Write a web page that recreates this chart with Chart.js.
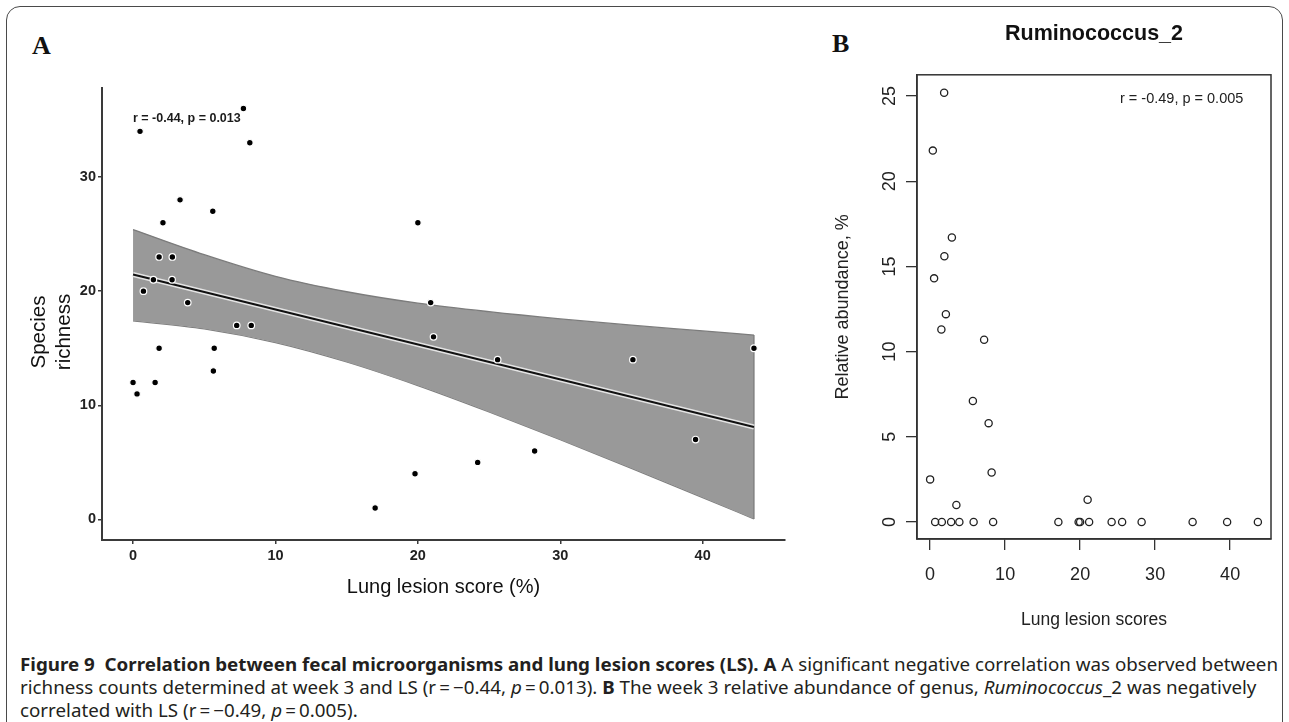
<!DOCTYPE html>
<html>
<head>
<meta charset="utf-8">
<title>Figure 9</title>
<script src="https://cdn.jsdelivr.net/npm/chart.js@4.4.1/dist/chart.umd.min.js"></script>
<style>
  html, body { margin: 0; padding: 0; background: #fff; overflow: hidden; }
  body { width: 1289px; height: 722px; position: relative; font-family: "Liberation Sans", Arial, sans-serif; color: #111; }
  .frame { position: absolute; left: 6px; top: 6px; width: 1275px; height: 780px;
           border: 1.5px solid #4a4a4a; border-radius: 14px 14px 0 0; }
  .abs { position: absolute; white-space: nowrap; }
  .panel { position: absolute; font-family: "Liberation Serif", "Times New Roman", serif; font-weight: bold; font-size: 26px; line-height: 26px; }
  #wrapA { position: absolute; left: 0; top: 0; }
  #wrapB { position: absolute; left: 800px; top: 0; }
  #ytitleA { position: absolute; left: -50px; top: 307px; width: 200px; height: 50px; text-align: center;
             font-size: 20.5px; line-height: 25px; transform: rotate(-90deg); color: #111; }
  #caption { position: absolute; left: 20px; top: 653px; transform-origin: 0 0;
             font-family: "Noto Sans", "Open Sans", sans-serif; font-size: 18px; line-height: 23px; color: #231f20; }
  #caption div { white-space: nowrap; }
  #caption span.line { display: inline-block; }
</style>
</head>
<body>
<div class="frame"></div>

<div class="panel" style="left:32px; top:33px;">A</div>
<div class="panel" style="left:832px; top:31px;">B</div>

<div id="wrapA"><canvas id="chartA" width="800" height="640"></canvas></div>
<div id="wrapB"><canvas id="chartB" width="489" height="650"></canvas></div>

<div id="ytitleA">Species<br>richness</div>
<div class="abs" style="left:133px; top:111px; font-size:12.5px; font-weight:bold; line-height:14px; color:#1a1a1a;">r = -0.44, p = 0.013</div>
<div class="abs" style="left:1120px; top:90px; font-size:14.5px; line-height:16px; color:#222;">r = -0.49, p = 0.005</div>

<div id="caption">
  <div><span class="line" id="capLine1"><b>Figure 9&nbsp; Correlation between fecal microorganisms and lung lesion scores (LS). A</b> A significant negative correlation was observed between</span></div>
  <div><span class="line">richness counts determined at week 3 and LS (r&#8201;=&#8201;−0.44, <i>p</i>&#8201;=&#8201;0.013). <b>B</b> The week 3 relative abundance of genus, <i>Ruminococcus</i>_2 was negatively</span></div>
  <div><span class="line">correlated with LS (r&#8201;=&#8201;−0.49, <i>p</i>&#8201;=&#8201;0.005).</span></div>
</div>

<script>
// ---- Panel A: species richness (week 3) against lung lesion score ----
const lesionA   = [0.49, 7.75, 8.2, 3.3, 2.1, 5.6, 20.0, 1.83, 2.76, 1.43, 2.74, 0.73, 3.84, 7.28, 8.3,
                   1.83, 5.7, 5.64, 0.0, 1.55, 0.28, 19.8, 20.9, 21.1, 25.6, 35.1, 43.6, 39.5, 28.2, 24.2, 17.0];
const richnessA = [34, 36, 33, 28, 26, 27, 26, 23, 23, 21, 21, 20, 19, 17, 17,
                   15, 15, 13, 12, 12, 11, 4, 19, 16, 14, 14, 15, 7, 6, 5, 1];

// linear fit and its 95% confidence band
const fitX       = [0, 43.6];
const fitY       = [21.46, 8.1];
const bandX      = [0, 5, 10, 15, 20, 25, 30, 35, 40, 43.6];
const bandUpper  = [25.4, 23.2, 21.3, 19.95, 18.95, 18.2, 17.57, 17.02, 16.52, 16.15];
const bandLower  = [17.4, 16.7, 15.5, 13.8, 11.73, 9.42, 6.99, 4.48, 1.92, 0.05];

const ticksAX = [0, 10, 20, 30, 40];
const ticksAY = [0, 10, 20, 30];

// ---- Panel B: relative abundance of Ruminococcus_2 against lung lesion score ----
const lesionB    = [1.87, 0.36, 2.9, 1.9, 0.53, 2.1, 1.5, 7.2, 5.7, 7.8, 8.2, 0.0, 21.0, 3.5,
                    0.67, 1.56, 2.8, 3.9, 5.8, 8.4, 17.1, 19.8, 20.0, 21.2, 24.2, 25.6, 28.2, 35.0, 39.6, 43.7];
const abundanceB = [25.2, 21.8, 16.7, 15.6, 14.3, 12.2, 11.3, 10.7, 7.1, 5.8, 2.9, 2.5, 1.3, 1.0,
                    0, 0, 0, 0, 0, 0, 0, 0, 0, 0, 0, 0, 0, 0, 0, 0];

const ticksBX = [0, 10, 20, 30, 40];
const ticksBY = [0, 5, 10, 15, 20, 25];

const pairs = (xs, ys) => xs.map((x, i) => ({ x: x, y: ys[i] }));
const fixTicks = list => scale => { scale.ticks = list.map(v => ({ value: v })); };

const SANS = '"Liberation Sans", Arial, sans-serif';
const AXIS_A = '#3a3a3a';
const BAND_EDGE = '#7c7c7c';

new Chart(document.getElementById('chartA'), {
  type: 'scatter',
  data: {
    datasets: [
      { data: pairs(lesionA, richnessA), pointRadius: 3.3, pointBackgroundColor: '#000',
        pointBorderColor: '#ffffff', pointBorderWidth: 1.2, showLine: false },
      { data: pairs(fitX, fitY), showLine: true, borderColor: '#111', borderWidth: 2.2, pointRadius: 0, fill: false },
      { data: pairs(fitX, fitY), showLine: true, borderColor: '#e4e4e4', borderWidth: 5, pointRadius: 0, fill: false },
      { data: [ { x: bandX[bandX.length - 1], y: bandLower[bandLower.length - 1] },
                { x: bandX[bandX.length - 1], y: bandUpper[bandUpper.length - 1] } ],
        showLine: true, borderColor: BAND_EDGE, borderWidth: 1.3, pointRadius: 0, fill: false },
      { data: pairs(bandX, bandUpper), showLine: true, borderColor: BAND_EDGE, borderWidth: 1.3,
        cubicInterpolationMode: 'monotone', pointRadius: 0, fill: '+1', backgroundColor: '#999999' },
      { data: pairs(bandX, bandLower), showLine: true, borderColor: BAND_EDGE, borderWidth: 1.3,
        cubicInterpolationMode: 'monotone', pointRadius: 0, fill: false }
    ]
  },
  options: {
    responsive: false, animation: false, events: [],
    layout: { padding: { left: 0, top: 88, right: 15, bottom: 0 } },
    plugins: { legend: { display: false }, tooltip: { enabled: false } },
    scales: {
      x: {
        type: 'linear', min: -2.18, max: 45.78,
        afterBuildTicks: fixTicks(ticksAX),
        afterFit: s => { s.height = 100; },
        grid: { display: true, drawOnChartArea: false, drawTicks: true, tickLength: 4, color: AXIS_A, lineWidth: 1.5 },
        border: { display: true, color: AXIS_A, width: 2 },
        ticks: { autoSkip: false, maxRotation: 0, padding: 3, color: '#222',
                 font: { family: SANS, size: 14.5, weight: 'bold' } },
        title: { display: true, text: 'Lung lesion score (%)', color: '#111',
                 font: { family: SANS, size: 20 }, padding: { top: 0, bottom: 41 } }
      },
      y: {
        type: 'linear', min: -1.8, max: 37.8,
        afterBuildTicks: fixTicks(ticksAY),
        afterFit: s => { s.width = 102; },
        grid: { display: true, drawOnChartArea: false, drawTicks: true, tickLength: 4, color: AXIS_A, lineWidth: 1.5 },
        border: { display: true, color: AXIS_A, width: 2 },
        ticks: { autoSkip: false, padding: 2, color: '#222',
                 font: { family: SANS, size: 14.5, weight: 'bold' } }
      }
    }
  }
});

// R-style box around the plotting region
const plotBox = {
  id: 'plotBox',
  afterDraw(chart) {
    const { ctx, chartArea: a } = chart;
    ctx.save();
    ctx.strokeStyle = '#333';
    ctx.lineWidth = 1.5;
    ctx.strokeRect(a.left, a.top, a.right - a.left, a.bottom - a.top);
    ctx.restore();
  }
};

new Chart(document.getElementById('chartB'), {
  type: 'scatter',
  data: {
    datasets: [
      { data: pairs(lesionB, abundanceB), pointRadius: 3.6, pointBackgroundColor: 'rgba(0,0,0,0)',
        pointBorderColor: '#222', pointBorderWidth: 1.3, showLine: false }
    ]
  },
  options: {
    responsive: false, animation: false, events: [],
    layout: { padding: { left: 0, top: 0, right: 18, bottom: 0 } },
    plugins: {
      legend: { display: false }, tooltip: { enabled: false },
      title: { display: true, text: 'Ruminococcus_2', fullSize: false, color: '#111',
               font: { family: SANS, size: 21.5, weight: 'bold' }, padding: { top: 21, bottom: 28 } }
    },
    scales: {
      x: {
        type: 'linear', min: -1.75, max: 45.45,
        afterBuildTicks: fixTicks(ticksBX),
        afterFit: s => { s.height = 111; },
        grid: { display: true, drawOnChartArea: false, drawTicks: true, tickLength: 11, color: '#333', lineWidth: 1.3 },
        border: { display: true, color: '#333', width: 1.5 },
        ticks: { autoSkip: false, maxRotation: 0, padding: 14, color: '#222', font: { family: SANS, size: 18 } },
        title: { display: true, text: 'Lung lesion scores', color: '#222',
                 font: { family: SANS, size: 17.5 }, padding: { top: 0, bottom: 19 } }
      },
      y: {
        type: 'linear', min: -1.0, max: 26.25,
        afterBuildTicks: fixTicks(ticksBY),
        afterFit: s => { s.width = 117; },
        grid: { display: true, drawOnChartArea: false, drawTicks: true, tickLength: 11, color: '#333', lineWidth: 1.3 },
        border: { display: true, color: '#333', width: 1.5 },
        ticks: { autoSkip: false, minRotation: 90, maxRotation: 90, crossAlign: 'center', padding: 6,
                 color: '#222', font: { family: SANS, size: 18 } },
        title: { display: true, text: 'Relative abundance, %', color: '#222',
                 font: { family: SANS, size: 18 }, padding: { top: 32, bottom: 0 } }
      }
    }
  },
  plugins: [plotBox]
});

// fit the caption block to the column width
const cap = document.getElementById('caption');
const natural = document.getElementById('capLine1').getBoundingClientRect().width;
cap.style.transform = 'scaleX(' + (1258 / natural) + ')';
</script>
</body>
</html>
